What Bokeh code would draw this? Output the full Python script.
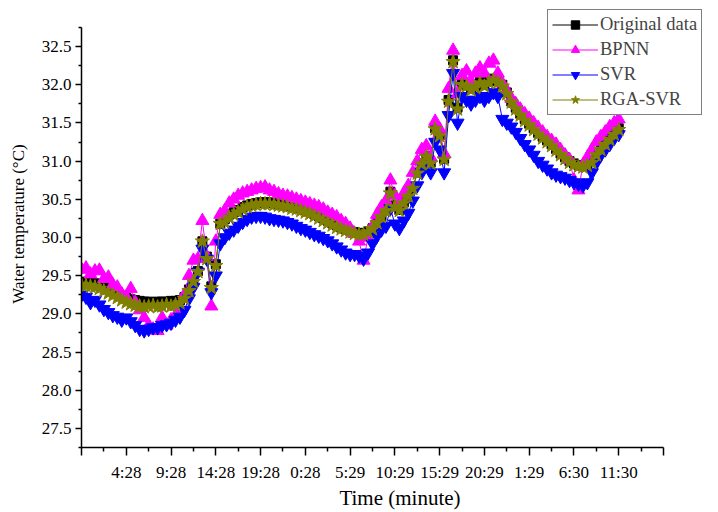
from bokeh.plotting import figure
from bokeh.models import FixedTicker, Legend, LegendItem, Range1d, NumeralTickFormatter
from bokeh.embed import file_html
from bokeh.resources import INLINE

tick_positions = [0, 10, 20, 30, 40, 50, 60, 70, 80, 90, 100, 110, 120, 130]
tick_labels = ["", "4:28", "9:28", "14:28", "19:28", "0:28", "5:29", "10:29",
               "15:29", "20:29", "1:29", "6:30", "11:30", ""]

original = [
    29.42, 29.42, 29.41, 29.40, 29.38, 29.36, 29.33, 29.30, 29.27, 29.24,
    29.21, 29.19, 29.18, 29.17, 29.16, 29.16, 29.15, 29.16, 29.16, 29.16,
    29.17, 29.17, 29.18, 29.22, 29.32, 29.43, 29.56, 29.95, 29.75, 29.36,
    29.65, 30.18, 30.24, 30.30, 30.33, 30.36, 30.40, 30.42, 30.44, 30.45,
    30.46, 30.46, 30.46, 30.45, 30.44, 30.43, 30.42, 30.41, 30.40, 30.38,
    30.36, 30.34, 30.31, 30.28, 30.25, 30.22, 30.19, 30.16, 30.13, 30.11,
    30.09, 30.07, 30.06, 30.06, 30.08, 30.12, 30.20, 30.28, 30.36, 30.60,
    30.42, 30.36, 30.46, 30.55, 30.65, 30.85, 30.97, 31.07, 30.98, 31.43,
    31.34, 31.03, 31.80, 32.32, 31.70, 32.02, 32.00, 31.95, 31.98, 32.04,
    32.00, 32.05, 32.08, 32.05, 32.00, 31.90, 31.78, 31.70, 31.62, 31.55,
    31.49, 31.43, 31.37, 31.32, 31.27, 31.22, 31.16, 31.10, 31.05, 31.00,
    30.97, 30.95, 30.94, 30.96, 31.00, 31.10, 31.17, 31.24, 31.30, 31.37,
    31.43,
]

bpnn = [
    29.58, 29.60, 29.52, 29.56, 29.57, 29.46, 29.48, 29.38, 29.35, 29.26,
    29.22, 29.33, 29.15, 29.05, 28.95, 28.85, 28.80, 28.78, 28.95, 28.85,
    28.92, 28.98, 29.05, 29.25, 29.50, 29.70, 29.72, 30.22, 29.75, 29.10,
    29.95, 30.30, 30.35, 30.45, 30.50, 30.55, 30.58, 30.60, 30.62, 30.64,
    30.65, 30.66, 30.62, 30.60, 30.57, 30.55, 30.54, 30.52, 30.50, 30.48,
    30.46, 30.44, 30.42, 30.40, 30.37, 30.33, 30.30, 30.27, 30.22, 30.18,
    30.12, 30.05, 29.95, 29.70, 30.00, 30.15, 30.30, 30.40, 30.48, 30.75,
    30.55, 30.45, 30.58, 30.68, 30.85, 31.00, 31.15, 31.20, 31.05, 31.52,
    31.42, 31.10, 31.95, 32.45, 31.88, 32.12, 32.18, 32.05, 32.15, 32.22,
    32.15, 32.28, 32.32, 32.15, 32.02, 31.92, 31.82, 31.75, 31.68, 31.62,
    31.56, 31.50, 31.44, 31.38, 31.32, 31.27, 31.22, 31.15, 31.08, 31.02,
    30.75, 30.62, 30.95, 31.05, 31.15, 31.25, 31.32, 31.38, 31.45, 31.50,
    31.55,
]

svr = [
    29.25, 29.22, 29.15, 29.18, 29.12, 29.06, 29.02, 28.98, 28.96, 28.92,
    28.95, 28.90, 28.85, 28.80, 28.78, 28.80, 28.82, 28.82, 28.85, 28.86,
    28.88, 28.92, 28.96, 29.05, 29.20, 29.35, 29.55, 29.85, 29.72, 29.28,
    29.50, 29.92, 30.00, 30.06, 30.10, 30.15, 30.20, 30.24, 30.27, 30.28,
    30.28, 30.27, 30.25, 30.24, 30.23, 30.22, 30.20, 30.18, 30.15, 30.12,
    30.10, 30.07, 30.04, 30.02, 29.99, 29.96, 29.92, 29.88, 29.84, 29.80,
    29.78, 29.78, 29.76, 29.72, 29.80, 29.92, 30.02, 30.10, 30.15, 30.38,
    30.18, 30.12, 30.22, 30.32, 30.48, 30.68, 30.85, 30.95, 30.85, 31.25,
    31.15, 30.85, 31.60, 32.15, 31.50, 31.85, 31.80, 31.75, 31.80, 31.85,
    31.80, 31.85, 31.90, 31.85, 31.55, 31.50, 31.45, 31.38, 31.30, 31.22,
    31.15, 31.08, 31.00, 30.95, 30.90, 30.85, 30.82, 30.80, 30.78, 30.75,
    30.72, 30.70, 30.68, 30.72, 30.85, 30.98, 31.08, 31.15, 31.22, 31.30,
    31.35,
]

rga_svr = [
    29.38, 29.37, 29.36, 29.35, 29.33, 29.30, 29.27, 29.24, 29.21, 29.18,
    29.15, 29.13, 29.11, 29.10, 29.09, 29.10, 29.11, 29.09, 29.10, 29.12,
    29.10, 29.12, 29.14, 29.20, 29.30, 29.42, 29.55, 29.95, 29.72, 29.34,
    29.63, 30.18, 30.20, 30.26, 30.30, 30.33, 30.37, 30.40, 30.42, 30.43,
    30.44, 30.44, 30.44, 30.43, 30.42, 30.41, 30.40, 30.38, 30.37, 30.35,
    30.33, 30.31, 30.28, 30.25, 30.22, 30.19, 30.16, 30.13, 30.11, 30.09,
    30.07, 30.05, 30.04, 30.04, 30.07, 30.11, 30.19, 30.27, 30.35, 30.58,
    30.40, 30.35, 30.45, 30.54, 30.64, 30.84, 30.96, 31.06, 30.97, 31.42,
    31.33, 31.02, 31.78, 32.30, 31.68, 32.00, 31.98, 31.93, 31.96, 32.02,
    31.98, 32.03, 32.06, 32.03, 31.98, 31.88, 31.77, 31.68, 31.60, 31.53,
    31.47, 31.41, 31.35, 31.30, 31.25, 31.20, 31.14, 31.08, 31.03, 30.98,
    30.95, 30.93, 30.92, 30.94, 30.98, 31.08, 31.15, 31.22, 31.28, 31.35,
    31.41,
]

x = list(range(len(original)))

FONT = "Liberation Serif"

# layout: axes span x 0..130 and y 27.25..32.75; the frame is extended to the
# right/top so that the legend can sit outside the axes box as in the original
W, H = 718, 512
LEFT, BOTTOM = 81, 65
AX_W, AX_H = 582, 420          # pixel extent of the drawn axes
x_lo, x_hi = 0, 130
y_lo, y_hi = 27.25, 32.75
frame_w = W - LEFT
frame_h = H - BOTTOM
x_end = x_lo + (x_hi - x_lo) * frame_w / AX_W
y_end = y_lo + (y_hi - y_lo) * frame_h / AX_H

p = figure(width=W, height=H,
           x_range=Range1d(x_lo, x_end), y_range=Range1d(y_lo, y_end),
           output_backend="svg", toolbar_location=None,
           min_border_left=LEFT, min_border_right=0,
           min_border_top=0, min_border_bottom=BOTTOM)

p.xgrid.visible = False
p.ygrid.visible = False
p.outline_line_color = None
p.background_fill_color = "white"
p.border_fill_color = "white"

series = [
    ("Original data", original, "black", "square", 9),
    ("BPNN", bpnn, "#FF00FF", "triangle", 13),
    ("SVR", svr, "#0000FF", "inverted_triangle", 13),
    ("RGA-SVR", rga_svr, "#808000", "star", 15),
]

items = []
for name, vals, col, mk, sz in series:
    l = p.line(x, vals, line_color=col, line_width=1)
    s = p.scatter(x, vals, marker=mk, size=sz, fill_color=col, line_color=col)
    items.append(LegendItem(label=name, renderers=[l, s]))

legend = Legend(items=items, location=(466, 332),
                border_line_color="black", border_line_width=1,
                background_fill_color="white", background_fill_alpha=1,
                label_text_font=FONT, label_text_font_size="18.5px",
                glyph_width=46, glyph_height=21, label_height=21,
                spacing=4, padding=4, margin=0, label_standoff=2)
p.add_layout(legend)

p.xaxis.ticker = FixedTicker(ticks=tick_positions,
                             minor_ticks=[t + 5 for t in tick_positions[:-1]])
p.xaxis.major_label_overrides = {t: lab for t, lab in zip(tick_positions, tick_labels)}
p.xaxis.bounds = (x_lo, x_hi)
p.yaxis.ticker = FixedTicker(ticks=[27.5, 28.0, 28.5, 29.0, 29.5, 30.0, 30.5, 31.0, 31.5, 32.0, 32.5],
                             minor_ticks=[27.25, 27.75, 28.25, 28.75, 29.25, 29.75, 30.25,
                                          30.75, 31.25, 31.75, 32.25, 32.75])
p.yaxis.formatter = NumeralTickFormatter(format="0.0")
p.yaxis.bounds = (y_lo, y_hi)

for ax in (p.xaxis[0], p.yaxis[0]):
    ax.axis_line_color = "black"
    ax.axis_line_width = 1.5
    ax.major_tick_line_color = "black"
    ax.major_tick_line_width = 1.5
    ax.minor_tick_line_color = "black"
    ax.minor_tick_line_width = 1.5
    ax.major_tick_in = 0
    ax.minor_tick_in = 0
    ax.major_label_text_font = FONT
    ax.major_label_text_font_size = "17px"
    ax.major_label_text_color = "black"
    ax.axis_label_text_font = FONT
    ax.axis_label_text_font_style = "normal"
    ax.axis_label_text_color = "black"

p.xaxis.major_tick_out = 8
p.xaxis.minor_tick_out = 4
p.yaxis.major_tick_out = 6
p.yaxis.minor_tick_out = 3

p.xaxis.axis_label = "Time (minute)"
p.xaxis.axis_label_text_font_size = "21px"
p.xaxis.major_label_standoff = 7
p.xaxis.axis_label_standoff = 1

p.yaxis.axis_label = "Water temperature (°C)"
p.yaxis.axis_label_text_font_size = "17px"
p.yaxis.major_label_standoff = 4
p.yaxis.axis_label_standoff = 11

open("out.html", "w").write(file_html(p, INLINE))
